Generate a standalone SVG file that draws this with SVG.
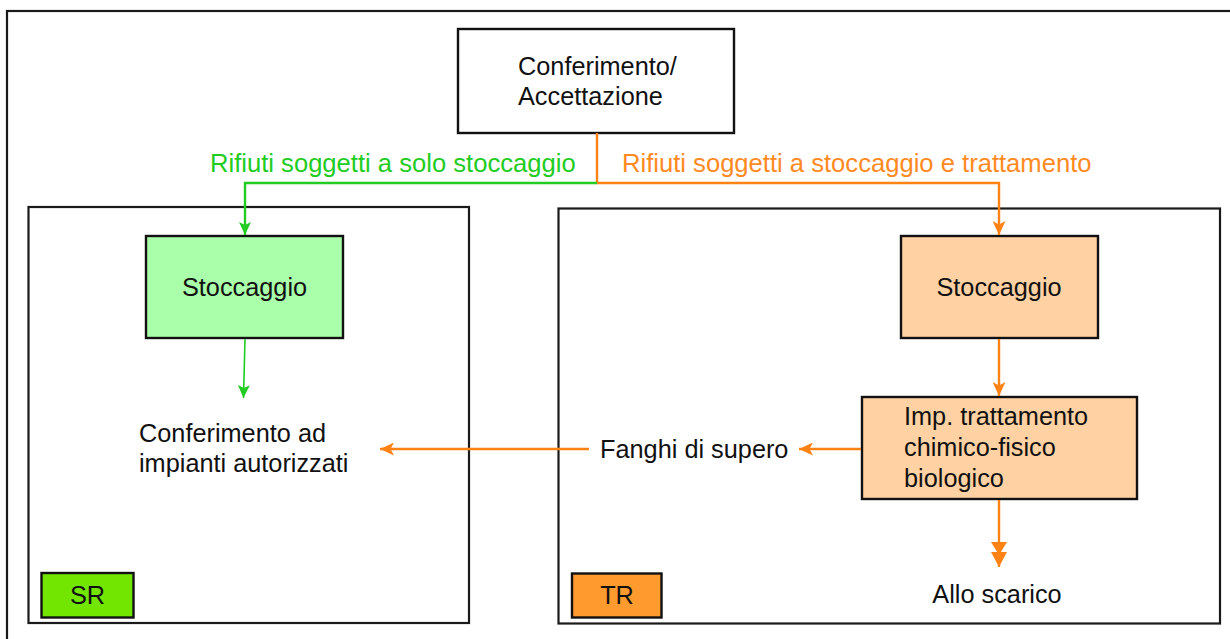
<svg xmlns="http://www.w3.org/2000/svg" width="1230" height="639" viewBox="0 0 1230 639">
<style>
text{font-family:"Liberation Sans",Arial,sans-serif;font-size:25.3px;fill:#111}
.frame{fill:none;stroke:#1a1a1a;stroke-width:2.2}
.box{stroke:#111;stroke-width:2.4}
.c{text-anchor:middle}
.g{stroke:#22cc22;fill:none}
.o{stroke:#ff8214;fill:none;stroke-width:2.4}
.gt{fill:#22cc22;font-size:25.6px}
.ot{fill:#ff8a1f;font-size:25.6px}
</style>
<defs>
<marker id="ao" markerUnits="userSpaceOnUse" markerWidth="15" markerHeight="13" refX="14" refY="6.5" orient="auto">
<path d="M0,0 L14,6.5 L0,13 L3.5,6.5 z" fill="#ff8214"/>
</marker>
<marker id="ag" markerUnits="userSpaceOnUse" markerWidth="14" markerHeight="13" refX="13" refY="6.5" orient="auto">
<path d="M0,0.5 L13,6.5 L0,12.5 L3,6.5 z" fill="#22cc22"/>
</marker>
<marker id="ao2" markerUnits="userSpaceOnUse" markerWidth="26" markerHeight="17" refX="25" refY="8.5" orient="auto">
<path d="M0,0.5 L13,8.5 L0,16.5 z M10,0.5 L25,8.5 L10,16.5 z" fill="#ff8214"/>
</marker>
</defs>
<rect width="1230" height="639" fill="#fff"/>
<rect class="frame" x="7" y="11" width="1240" height="640"/>
<g id="container-sr">
<rect class="frame" x="28.5" y="207" width="440.5" height="416"/>
</g>
<g id="container-tr">
<rect class="frame" x="558.5" y="208.5" width="661.5" height="415"/>
</g>
<g id="node-conferimento">
<rect class="box" x="458" y="29" width="276" height="104" fill="#fff"/>
<text x="518" y="75">Conferimento/</text>
<text x="518" y="105">Accettazione</text>
</g>
<g id="node-stoccaggio-sr">
<rect class="box" x="146" y="236" width="197" height="102" fill="#aaffaa"/>
<text class="c" x="244.5" y="296">Stoccaggio</text>
</g>
<g id="node-stoccaggio-tr">
<rect class="box" x="901" y="236" width="197" height="102" fill="#ffd1a3"/>
<text class="c" x="999" y="296">Stoccaggio</text>
</g>
<g id="node-trattamento">
<rect class="box" x="862" y="397" width="275" height="102" fill="#ffd1a3"/>
<text x="904" y="425">Imp. trattamento</text>
<text x="904" y="456">chimico-fisico</text>
<text x="904" y="487">biologico</text>
</g>
<g id="node-conferimento-impianti">
<text x="139" y="442">Conferimento ad</text>
<text x="139" y="472">impianti autorizzati</text>
</g>
<g id="node-fanghi">
<text x="600" y="458">Fanghi di supero</text>
</g>
<g id="node-scarico">
<text class="c" x="997" y="603">Allo scarico</text>
</g>
<g id="node-sr">
<rect class="box" x="41.5" y="573" width="92" height="44.5" fill="#72e600"/>
<text class="c" x="87.5" y="604">SR</text>
</g>
<g id="node-tr">
<rect class="box" x="572" y="573.5" width="89.5" height="44" fill="#ff9a2e"/>
<text class="c" x="617" y="604">TR</text>
</g>
<g id="connectors">
<path class="o" d="M597,133 V183 H999 V235" marker-end="url(#ao)"/>
<path class="g" stroke-width="2.4" d="M597,183 H245 V235" marker-end="url(#ag)"/>
<path class="g" stroke-width="1.6" d="M245,339 L243.5,398" marker-end="url(#ag)"/>
<path class="o" d="M999,339 V396" marker-end="url(#ao)"/>
<path class="o" d="M999,500 V567" marker-end="url(#ao2)"/>
<path class="o" d="M861,449 H799" marker-end="url(#ao)"/>
<path class="o" d="M589,449 H380" marker-end="url(#ao)"/>
<text class="gt" x="210" y="172">Rifiuti soggetti a solo stoccaggio</text>
<text class="ot" x="622" y="172">Rifiuti soggetti a stoccaggio e trattamento</text>
</g>
</svg>
